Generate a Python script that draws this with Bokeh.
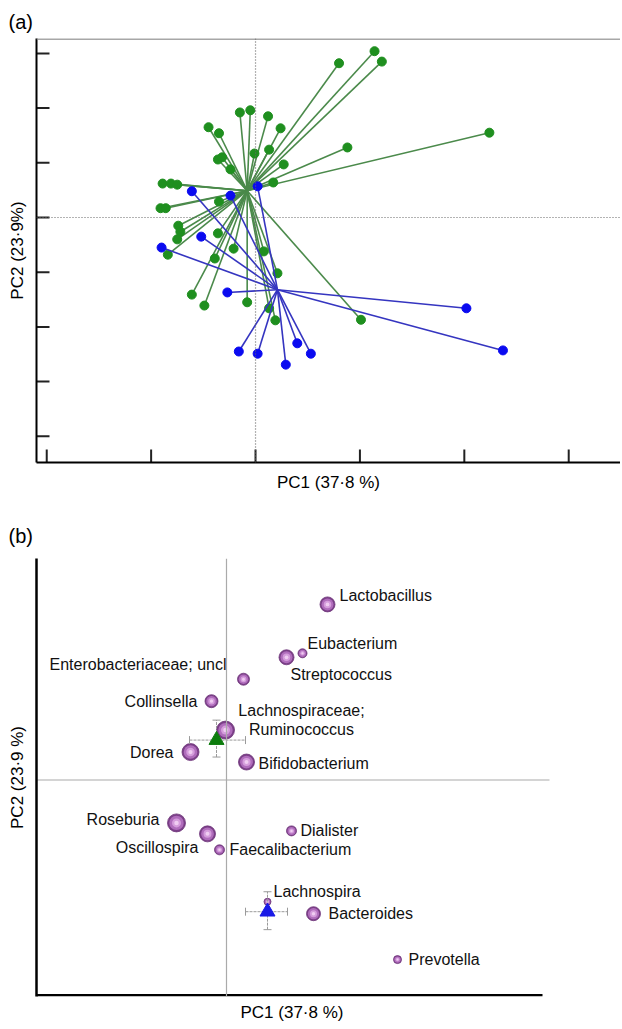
from bokeh.plotting import figure
from bokeh.layouts import column
from bokeh.models import Span, FixedTicker, Title
from bokeh.embed import file_html
from bokeh.resources import INLINE
from bokeh.core.properties import value

FONT = "Liberation Sans"

# ---------------- Panel (a) data: PCA sample scores ----------------
green_x = [0.080, 0.114, 0.121, 0.088, 0.224, -0.015, -0.005, 0.012, -0.045, -0.035,
           0.024, -0.036, -0.032, -0.024, -0.001, 0.013, 0.027, 0.017, -0.089, -0.081,
           -0.075, -0.091, -0.086, -0.035, -0.074, -0.072, -0.075, -0.036, -0.084, -0.021,
           -0.039, 0.008, 0.021, -0.061, -0.049, -0.008, 0.013, 0.019, 0.101]
green_y = [0.282, 0.304, 0.285, 0.128, 0.155, 0.192, 0.196, 0.185, 0.165, 0.154,
           0.163, 0.106, 0.110, 0.088, 0.117, 0.124, 0.097, 0.064, 0.062, 0.062,
           0.060, 0.017, 0.017, 0.029, -0.015, -0.026, -0.040, -0.029, -0.068, -0.057,
           -0.075, -0.062, -0.102, -0.141, -0.161, -0.155, -0.166, -0.188, -0.187]
blue_x = [-0.061, -0.024, 0.002, -0.052, -0.090, -0.027, -0.016, 0.002, 0.029, 0.040,
          0.053, 0.202, 0.237]
blue_y = [0.048, 0.040, 0.057, -0.035, -0.055, -0.137, -0.245, -0.249, -0.269, -0.230,
          -0.249, -0.166, -0.243]
green_centroid = [-0.008, 0.049]
blue_centroid = [0.021, -0.132]

xticks_a = [-0.2, -0.1, 0.0, 0.1, 0.2, 0.3]
yticks_a = [-0.4, -0.3, -0.2, -0.1, 0.0, 0.1, 0.2, 0.3]

# ---------------- Panel (b) data: genera loadings ----------------
genera = ["Lactobacillus", "Eubacterium", "Streptococcus", "Enterobacteriaceae; uncl",
          "Collinsella", "Lachnospiraceae;\nRuminococcus", "Dorea", "Bifidobacterium",
          "Roseburia", "Oscillospira", "Faecalibacterium", "Dialister", "Lachnospira",
          "Bacteroides", "Prevotella"]
genus_x = [1.01, 0.76, 0.60, 0.17, -0.15, -0.01, -0.36, 0.20, -0.50, -0.19, -0.07,
           0.65, 0.41, 0.87, 1.71]
genus_y = [1.76, 1.27, 1.23, 1.01, 0.79, 0.50, 0.28, 0.18, -0.43, -0.54, -0.70,
           -0.51, -1.22, -1.34, -1.80]
genus_abundance = [15, 9, 15, 12, 13, 18, 17, 16, 18, 16, 10, 10, 7, 14, 8]

group_x = [-0.10, 0.41]
group_y = [0.40, -1.32]
group_x_lo = [-0.37, 0.19]
group_x_hi = [0.19, 0.61]
group_y_lo = [0.23, -1.50]
group_y_hi = [0.60, -1.12]

# label placement (screen px offsets, alignment)
label_dx = [12, 5, 4, -17, -14, 76, -17, 12, -17, -9, 10, 9, 6, 15, 11]
label_dy = [-9, -10, 17, -15, 0, -10, 0, 1, -3, 14, 0, 0, -10, 0, 0]
label_align = ["left", "left", "left", "right", "right", "center", "right", "left",
               "right", "right", "left", "left", "left", "left", "left"]


def base_style(p):
    for ax in (p.xaxis[0], p.yaxis[0]):
        ax.ticker = FixedTicker(ticks=[])
        ax.major_tick_line_color = None
        ax.minor_tick_line_color = None
        ax.major_label_standoff = 0
        ax.axis_line_color = "black"
        ax.axis_label_text_font = FONT
        ax.axis_label_text_font_size = "17px"
        ax.axis_label_text_font_style = "normal"
        ax.axis_label_text_color = "black"
        ax.axis_label_standoff = 10
    p.grid.visible = False
    p.outline_line_color = None
    p.background_fill_color = "white"
    p.border_fill_color = "white"
    p.title.text_font = FONT
    p.title.text_font_size = "20px"
    p.title.text_font_style = "normal"
    p.title.text_color = "black"
    p.title.align = "left"
    p.title.offset = -28


# ---------------- Figure (a) ----------------
xa0, xa1 = -0.2098, 0.3496
ya0, ya1 = -0.4479, 0.3272
p1 = figure(width=620, height=500, output_backend="svg", toolbar_location=None,
            x_range=(xa0, xa1), y_range=(ya0, ya1), title="(a)",
            min_border_left=36, min_border_right=0, min_border_top=38,
            min_border_bottom=38)
base_style(p1)
p1.title.standoff = 12
p1.xaxis.axis_line_width = 2
p1.yaxis.axis_line_width = 2
p1.xaxis.axis_label = "PC1 (37\u00b78 %)"
p1.yaxis.axis_label = "PC2 (23\u00b79%)"

# inward ticks (13 px)
tky = 13 / 547.0
tkx = 13 / 1044.0
p1.segment(x0=xticks_a, y0=[ya0] * len(xticks_a), x1=xticks_a,
           y1=[ya0 + tky] * len(xticks_a), line_color="#222222", line_width=2)
p1.segment(x0=[xa0] * len(yticks_a), y0=yticks_a, x1=[xa0 + tkx] * len(yticks_a),
           y1=yticks_a, line_color="#222222", line_width=2)

p1.add_layout(Span(location=0.3262, dimension="width", line_color="#8a8a8a", line_width=1.5))
p1.add_layout(Span(location=0, dimension="width", line_color="#666666", line_width=1.2,
                   line_dash="1 2"))
p1.add_layout(Span(location=0, dimension="height", line_color="#666666", line_width=1.2,
                   line_dash="1 2"))

p1.segment(x0=[green_centroid[0]] * len(green_x), y0=[green_centroid[1]] * len(green_y),
           x1=green_x, y1=green_y, line_color="#4b8a4b", line_width=1.6)
p1.scatter(green_x, green_y, size=9, fill_color="#1f8f1f", line_color="#1f8f1f")
p1.segment(x0=[blue_centroid[0]] * len(blue_x), y0=[blue_centroid[1]] * len(blue_y),
           x1=blue_x, y1=blue_y, line_color="#3535c0", line_width=1.6)
p1.scatter(blue_x, blue_y, size=9, fill_color="#0a0af0", line_color="#0a0af0")

# ---------------- Figure (b) ----------------
xb0, xb1 = -1.90, 3.94
yb0, yb1 = -2.17, 2.22
p2 = figure(width=620, height=529, output_backend="svg", toolbar_location=None,
            x_range=(xb0, xb1), y_range=(yb0, yb1), title="(b)",
            min_border_left=36, min_border_right=0, min_border_top=58,
            min_border_bottom=32)
base_style(p2)
p2.title.standoff = 24
p2.xaxis.visible = False
p2.yaxis.axis_line_width = 2.5
p2.yaxis.axis_label = "PC2 (23\u00b79 %)"
p2.add_layout(Title(text="PC1 (37\u00b78 %)", align="left", offset=204,
                    vertical_align="top", standoff=12, text_font=FONT,
                    text_font_size="17px", text_font_style="normal",
                    text_color="black"), "below")

# reference lines through the origin
p2.segment(x0=[xb0], y0=[0], x1=[3.23], y1=[0], line_color="#aaaaaa", line_width=1.2)
p2.add_layout(Span(location=0, dimension="height", line_color="#aaaaaa", line_width=1.2))
# bottom axis line
p2.segment(x0=[xb0], y0=[yb0 + 0.012], x1=[3.16], y1=[yb0 + 0.012], line_color="black",
           line_width=2.5)

# spheres (layered circles to mimic shading)
sz = [float(s) for s in genus_abundance]
p2.scatter(genus_x, genus_y, size=sz, fill_color="#7b3f88", line_color="#6e357a",
           line_width=0.8)
p2.scatter(genus_x, genus_y, size=[s * 0.8 for s in sz], fill_color="#b06dbc",
           line_color=None)
p2.scatter(genus_x, genus_y, size=[s * 0.5 for s in sz], fill_color="#d59ddc",
           line_color=None)
p2.scatter(genus_x, genus_y, size=[s * 0.25 for s in sz], fill_color="#f0cdf2",
           line_color=None)

p2.text(x=genus_x, y=genus_y, text=genera, x_offset=label_dx, y_offset=label_dy,
        text_align=label_align, text_baseline="middle", text_font=value(FONT),
        text_font_size="16px", text_color="#111111", text_line_height=1.1)

# group centroids with error bars
ebc = "#9a9a9a"
p2.segment(x0=group_x_lo, y0=group_y, x1=group_x_hi, y1=group_y, line_color=ebc,
           line_width=1, line_dash="3 1")
p2.segment(x0=group_x, y0=group_y_lo, x1=group_x, y1=group_y_hi, line_color=ebc,
           line_width=1, line_dash="3 1")
cap = 0.04
p2.segment(x0=group_x_lo, y0=[y - cap for y in group_y], x1=group_x_lo,
           y1=[y + cap for y in group_y], line_color=ebc, line_width=1)
p2.segment(x0=group_x_hi, y0=[y - cap for y in group_y], x1=group_x_hi,
           y1=[y + cap for y in group_y], line_color=ebc, line_width=1)
p2.segment(x0=[x - cap for x in group_x], y0=group_y_lo, x1=[x + cap for x in group_x],
           y1=group_y_lo, line_color=ebc, line_width=1)
p2.segment(x0=[x - cap for x in group_x], y0=group_y_hi, x1=[x + cap for x in group_x],
           y1=group_y_hi, line_color=ebc, line_width=1)
p2.scatter(group_x, group_y, marker="triangle", size=15,
           fill_color=["#0d7d0d", "#1a1ae6"], line_color=["#0d7d0d", "#1a1ae6"])

layout = column(p1, p2, spacing=0)
open("out.html", "w").write(file_html(layout, INLINE))
